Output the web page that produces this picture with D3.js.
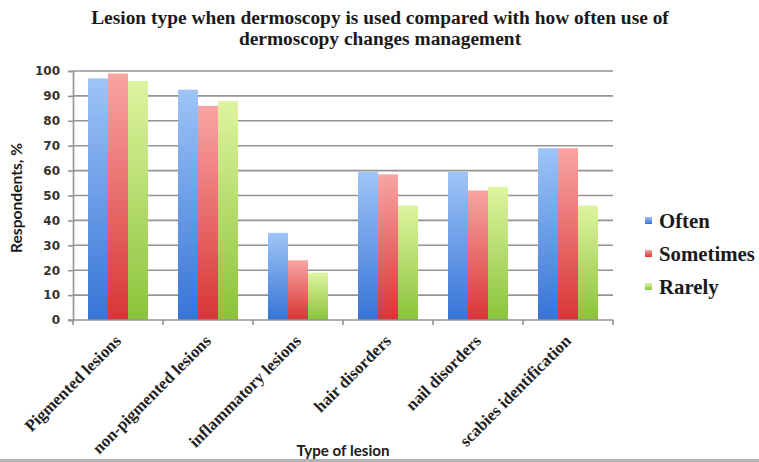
<!DOCTYPE html>
<html>
<head>
<meta charset="utf-8">
<script src="https://cdn.jsdelivr.net/npm/d3@7"></script>
<style>
  html, body { margin: 0; padding: 0; background: #fff; }
  svg { display: block; }
</style>
</head>
<body>
<svg id="chart" width="759" height="462"></svg>
<script>
// Lesion categories (x axis)
const categories = [
  "Pigmented lesions",
  "non-pigmented lesions",
  "inflammatory lesions",
  "hair disorders",
  "nail disorders",
  "scabies identification"
];

// Series names (legend)
const seriesNames = ["Often", "Sometimes", "Rarely"];

// Respondents, % per category for each series
const often     = [97, 92.5, 35, 59.5, 59.5, 69];
const sometimes = [99, 86, 24, 58.5, 52, 69];
const rarely    = [96, 88, 19, 46, 53.5, 46];

// Y tick values
const yTicks = [0, 10, 20, 30, 40, 50, 60, 70, 80, 90, 100];

const seriesValues = [often, sometimes, rarely];

// Gradient stops per series: light top -> saturated bottom
const seriesColors = [
  { top: "#9fc4f7", bottom: "#3674d6" },
  { top: "#f8a5a3", bottom: "#d83535" },
  { top: "#def4a0", bottom: "#8ac33a" }
];

const svg = d3.select("#chart");
const W = 759, H = 462;
const plot = { left: 73, right: 613, top: 71, bottom: 320 };
const serif = "'Liberation Serif', 'Times New Roman', serif";

// gradients
const defs = svg.append("defs");
seriesColors.forEach((c, i) => {
  const g = defs.append("linearGradient")
    .attr("id", "grad" + i)
    .attr("x1", 0).attr("y1", 0).attr("x2", 0).attr("y2", 1);
  g.append("stop").attr("offset", "0%").attr("stop-color", c.top);
  g.append("stop").attr("offset", "100%").attr("stop-color", c.bottom);
});

// Scales
const y = d3.scaleLinear().domain([0, 100]).range([plot.bottom, plot.top]);
const x0 = d3.scaleBand().domain(categories).range([plot.left, plot.right]).padding(0);
const x1 = d3.scaleBand().domain(seriesNames)
  .range([x0.bandwidth() / 6, x0.bandwidth() * 5 / 6]).padding(0);

const gridColor = "#939393";

// Horizontal gridlines
svg.append("g").selectAll("line").data(yTicks.filter(d => d > 0)).join("line")
  .attr("x1", plot.left).attr("x2", plot.right)
  .attr("y1", d => y(d)).attr("y2", d => y(d))
  .attr("stroke", gridColor).attr("stroke-width", 1.6);

// Bars
const rows = categories.map((c, ci) => ({
  cat: c,
  vals: seriesNames.map((s, si) => ({ s, si, v: seriesValues[si][ci] }))
}));

svg.append("g").selectAll("g").data(rows).join("g")
  .attr("transform", d => `translate(${x0(d.cat)},0)`)
  .selectAll("rect").data(d => d.vals).join("rect")
  .attr("x", d => x1(d.s))
  .attr("width", x1.bandwidth())
  .attr("y", d => y(d.v))
  .attr("height", d => y(0) - y(d.v))
  .attr("fill", d => `url(#grad${d.si})`);

// Y axis
const yAxis = d3.axisLeft(y).tickValues(yTicks).tickSize(5).tickPadding(8);
const gy = svg.append("g").attr("transform", `translate(${plot.left},0)`).call(yAxis);
gy.select(".domain").attr("stroke", gridColor).attr("stroke-width", 1.6);
gy.selectAll(".tick line").attr("stroke", gridColor).attr("stroke-width", 1.6);
gy.selectAll(".tick text")
  .attr("font-family", "'DejaVu Sans', sans-serif")
  .attr("font-weight", "bold")
  .attr("font-size", 12)
  .attr("fill", "#333");

// X axis: ticks at category boundaries
const boundaries = categories.map(c => x0(c)).concat([plot.right]);
svg.append("line")
  .attr("x1", plot.left - 5).attr("x2", plot.right)
  .attr("y1", y(0)).attr("y2", y(0))
  .attr("stroke", gridColor).attr("stroke-width", 1.6);
svg.append("g").selectAll("line").data(boundaries).join("line")
  .attr("x1", d => d).attr("x2", d => d)
  .attr("y1", y(0)).attr("y2", y(0) + 5)
  .attr("stroke", gridColor).attr("stroke-width", 1.6);

// Scales a text element's font size so its width matches a target
function fitWidth(sel, target) {
  const node = sel.node();
  const fs = parseFloat(sel.attr("font-size"));
  const w = node.getComputedTextLength();
  if (w > 0) sel.attr("font-size", (fs * target / w).toFixed(2));
  return parseFloat(sel.attr("font-size"));
}

// Category labels, rotated
const xl = svg.append("g").selectAll("text").data(categories).join("text")
  .attr("transform", d => `translate(${x0(d) + x0.bandwidth() / 2 + 4},${plot.bottom + 22}) rotate(-45)`)
  .attr("text-anchor", "end")
  .attr("font-family", serif)
  .attr("font-weight", "bold")
  .attr("font-size", 15)
  .attr("fill", "#1e1e1e")
  .text(d => d);
const xfs = fitWidth(d3.select(xl.nodes()[0]), 128);
xl.attr("font-size", xfs);

// Title
const title1 = svg.append("text")
  .attr("x", 380).attr("y", 24).attr("text-anchor", "middle")
  .attr("font-family", serif)
  .attr("font-weight", "bold").attr("font-size", 17).attr("fill", "#1a1a1a")
  .text("Lesion type when dermoscopy is used compared with how often use of");
const tfs = fitWidth(title1, 578);
svg.append("text")
  .attr("x", 380).attr("y", 45).attr("text-anchor", "middle")
  .attr("font-family", serif)
  .attr("font-weight", "bold").attr("font-size", tfs).attr("fill", "#1a1a1a")
  .text("dermoscopy changes management");

// Axis titles
const xt = svg.append("text")
  .attr("x", 343).attr("y", 456).attr("text-anchor", "middle")
  .attr("font-family", "Lato, sans-serif").attr("font-weight", "bold")
  .attr("font-size", 13).attr("fill", "#1a1a1a")
  .text("Type of lesion");
fitWidth(xt, 93);

const yt = svg.append("text")
  .attr("transform", "translate(22,198) rotate(-90)")
  .attr("text-anchor", "middle")
  .attr("font-family", "Lato, sans-serif").attr("font-weight", "bold")
  .attr("font-size", 13).attr("fill", "#1a1a1a")
  .text("Respondents, %");
fitWidth(yt, 110);

// Legend
const legend = svg.append("g").selectAll("g").data(seriesNames).join("g")
  .attr("transform", (d, i) => `translate(645,${228 + i * 33})`);
legend.append("rect")
  .attr("x", 0).attr("y", -11).attr("width", 7).attr("height", 7)
  .attr("fill", (d, i) => `url(#grad${i})`);
const lt = legend.append("text")
  .attr("x", 14).attr("y", 0)
  .attr("font-family", serif)
  .attr("font-weight", "bold").attr("font-size", 18).attr("fill", "#1a1a1a")
  .text(d => d);
const lfs = fitWidth(d3.select(lt.nodes()[1]), 96);
lt.attr("font-size", lfs);

// Bottom border strip
svg.append("rect")
  .attr("x", 0).attr("y", 459).attr("width", W).attr("height", 3)
  .attr("fill", "#b4b4b4");
</script>
</body>
</html>
